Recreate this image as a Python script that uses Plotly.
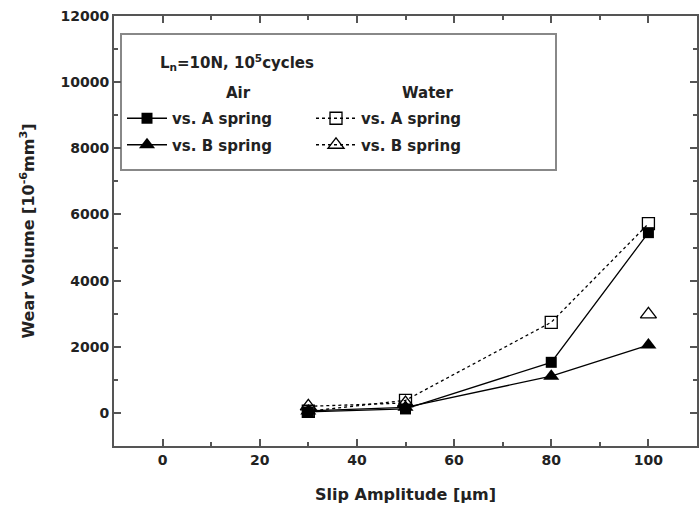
import plotly.graph_objects as go

slip = [30, 50, 80, 100]
air_a = [30, 120, 1530, 5450]
air_b = [60, 170, 1110, 2050]
water_a = [50, 380, 2740, 5720]
water_b = [200, 300, None, 2980]
y_ticks = [0, 2000, 4000, 6000, 8000, 10000, 12000]
x_ticks = [0, 20, 40, 60, 80, 100]

FONT = "DejaVu Sans"

fig = go.Figure()
fig.add_trace(go.Scatter(x=slip, y=air_a, mode="lines+markers", name="vs. A spring",
                         legend="legend", legendgroup="a1",
                         line=dict(color="black", width=1.3),
                         marker=dict(symbol="square", size=11, color="black")))
fig.add_trace(go.Scatter(x=slip, y=air_b, mode="lines+markers", name="vs. B spring",
                         legend="legend", legendgroup="a2",
                         line=dict(color="black", width=1.3),
                         marker=dict(symbol="triangle-up", size=14, color="black")))
fig.add_trace(go.Scatter(x=slip, y=water_a, mode="lines+markers", name="vs. A spring",
                         legend="legend2", legendgroup="w1",
                         line=dict(color="black", width=1.3, dash="dot"),
                         marker=dict(symbol="square-open", size=12, color="black", line=dict(width=1.3))))
fig.add_trace(go.Scatter(x=slip, y=water_b, mode="lines+markers", name="vs. B spring",
                         legend="legend2", legendgroup="w2",
                         connectgaps=False,
                         line=dict(color="black", width=1.3, dash="dot"),
                         marker=dict(symbol="triangle-up-open", size=14, color="black", line=dict(width=1.3))))

axis_common = dict(showline=True, linecolor="#555", linewidth=2, mirror="ticks",
                   ticks="inside", ticklen=7, tickwidth=1.5, tickcolor="#555",
                   showgrid=False, zeroline=False, automargin=False,
                   tickfont=dict(family=FONT, size=14, color="#222", weight="bold"))

fig.update_xaxes(range=[-10, 110], tickvals=x_ticks, ticktext=[str(v) for v in x_ticks],
                 minor=dict(dtick=10, tick0=0, ticks="inside", ticklen=4, tickcolor="#555"),
                 title=dict(text="Slip Amplitude [μm]", font=dict(family=FONT, size=16, color="#222", weight="bold"), standoff=22),
                 **axis_common)
fig.update_yaxes(range=[-1000, 12000], tickvals=y_ticks, ticktext=[str(v) for v in y_ticks],
                 minor=dict(dtick=1000, tick0=0, ticks="inside", ticklen=4, tickcolor="#555"),
                 title=dict(text="Wear Volume [10<sup>-6</sup>mm<sup>3</sup>]", font=dict(family=FONT, size=16, color="#222", weight="bold"), standoff=22),
                 **axis_common)

W, H = 700, 515
L, R, T, B = 114, 3, 16, 69
pw, ph = W - L - R, H - T - B

def px(xp):
    return (xp - L) / pw

def py(yp):
    return (H - B - yp) / ph

fig.add_shape(type="rect", xref="paper", yref="paper",
              x0=px(121), x1=px(556), y0=py(170), y1=py(34),
              line=dict(color="#888", width=2), fillcolor="white", layer="below")

fig.add_annotation(xref="paper", yref="paper", x=px(158), y=py(63), xanchor="left", yanchor="middle",
                   text="L<sub>n</sub>=10N, 10<sup>5</sup>cycles", showarrow=False,
                   font=dict(family=FONT, size=15, color="#222", weight="bold"))
fig.add_annotation(xref="paper", yref="paper", x=px(238), y=py(93), xanchor="center", yanchor="middle",
                   text="Air", showarrow=False, font=dict(family=FONT, size=15, color="#222", weight="bold"))
fig.add_annotation(xref="paper", yref="paper", x=px(428), y=py(93), xanchor="center", yanchor="middle",
                   text="Water", showarrow=False, font=dict(family=FONT, size=15, color="#222", weight="bold"))

leg_common = dict(orientation="v", yanchor="top", xanchor="left", bgcolor="rgba(0,0,0,0)",
                  font=dict(family=FONT, size=15, color="#222", weight="bold"),
                  itemwidth=40, tracegroupgap=4)

fig.update_layout(
    width=W, height=H,
    margin=dict(l=L, r=R, t=T, b=B),
    plot_bgcolor="white", paper_bgcolor="white",
    legend=dict(x=px(122), y=py(102), **leg_common),
    legend2=dict(x=px(311), y=py(102), **leg_common),
    showlegend=True,
)

fig.write_html("out.html", config={"displayModeBar": False},
               post_script="document.body.style.margin='0';")
